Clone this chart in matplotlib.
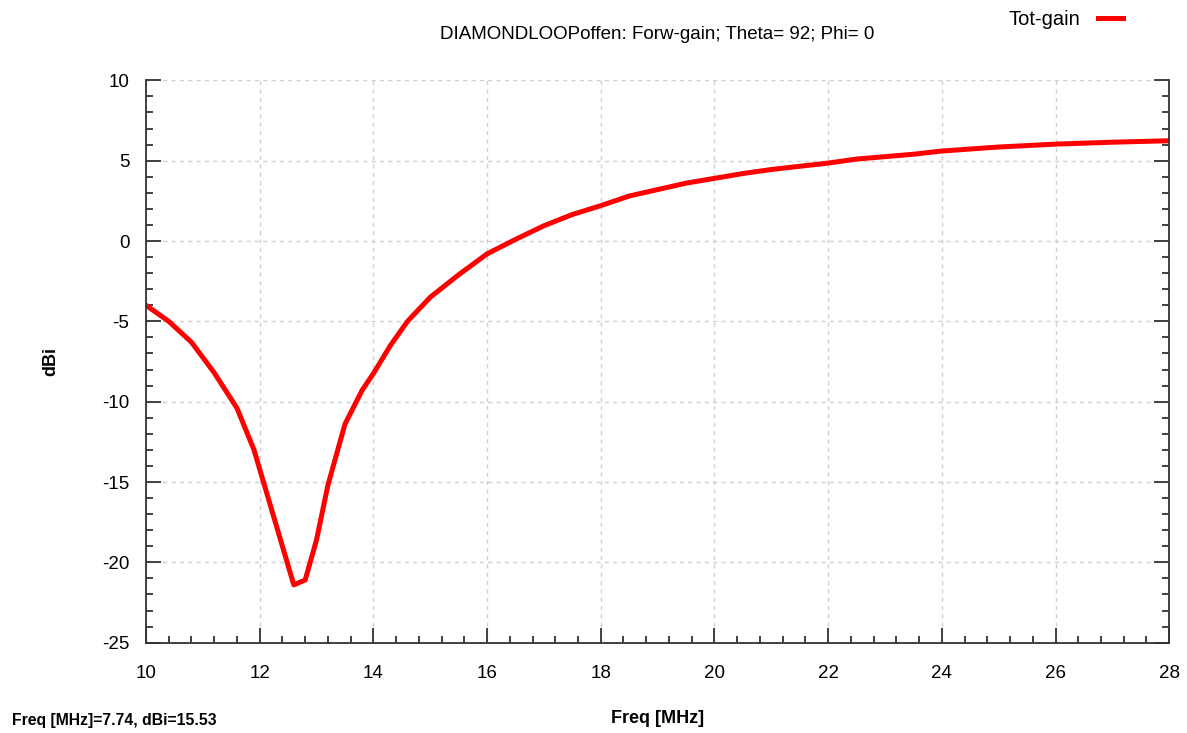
import numpy as np
import matplotlib.pyplot as plt
from matplotlib.ticker import MultipleLocator

plt.rcParams['font.family'] = ['Liberation Sans', 'DejaVu Sans']
plt.rcParams['axes.unicode_minus'] = False

# frequency sweep in MHz and forward gain in dBi
freq = [10.0, 10.4, 10.8, 11.2, 11.6, 11.9, 12.2, 12.4, 12.6, 12.8,
        13.0, 13.2, 13.5, 13.8, 14.0, 14.3, 14.6, 15.0, 15.5, 16.0,
        16.5, 17.0, 17.5, 18.0, 18.5, 19.0, 19.5, 20.0, 20.5, 21.0,
        21.5, 22.0, 22.5, 23.0, 23.5, 24.0, 25.0, 26.0, 27.0, 28.0]
gain = [-4.0, -5.0, -6.3, -8.2, -10.4, -13.0, -16.6, -19.0, -21.4, -21.1,
        -18.6, -15.2, -11.4, -9.3, -8.25, -6.5, -5.0, -3.5, -2.1, -0.8,
        0.1, 0.95, 1.65, 2.2, 2.8, 3.2, 3.6, 3.9, 4.2, 4.45,
        4.65, 4.85, 5.1, 5.25, 5.4, 5.6, 5.85, 6.03, 6.15, 6.24]

title = 'DIAMONDLOOPoffen: Forw-gain; Theta= 92; Phi= 0'
series_name = 'Tot-gain'
cursor_text = 'Freq [MHz]=7.74, dBi=15.53'

fig = plt.figure(figsize=(11.87, 7.33), dpi=100)
ax = fig.add_axes([0.123, 0.1232, 0.862, 0.7672])

line, = ax.plot(freq, gain, color='#ff0000', lw=3.6, solid_joinstyle='round',
                label=series_name)

ax.set_xlim(10, 28)
ax.set_ylim(-25, 10)
ax.xaxis.set_major_locator(MultipleLocator(2))
ax.xaxis.set_minor_locator(MultipleLocator(0.4))
ax.yaxis.set_major_locator(MultipleLocator(5))
ax.yaxis.set_minor_locator(MultipleLocator(1))

ax.grid(True, which='major', color='#d0d0d0', ls=(0, (3, 3)), lw=1)
ax.spines['top'].set_visible(False)
for s in ['left', 'right', 'bottom']:
    ax.spines[s].set_color('#333333')
    ax.spines[s].set_linewidth(1.3)

ax.tick_params(which='both', direction='in', right=True, top=False,
               colors='#333333', labelcolor='black', width=1.3)
ax.tick_params(which='major', length=10.5, labelsize=13.5)
ax.tick_params(which='minor', length=4.8)
ax.tick_params(axis='x', which='major', pad=16)
ax.tick_params(axis='y', which='major', pad=12)

ax.set_title(title, fontsize=13.5, pad=30)
ax.set_xlabel('Freq [MHz]', fontsize=13, fontweight='bold', labelpad=20)
ax.set_ylabel('dBi', fontsize=13, fontweight='bold', labelpad=31)

fig.legend(handles=[line], loc='center right', bbox_to_anchor=(0.961, 0.973),
           frameon=False, markerfirst=False, handlelength=1.2,
           handletextpad=0.9, fontsize=14.5)

fig.text(0.010, 0.017, cursor_text, fontsize=11.3, fontweight='bold',
         ha='left', va='center')

fig.savefig('out.png', dpi=100)
